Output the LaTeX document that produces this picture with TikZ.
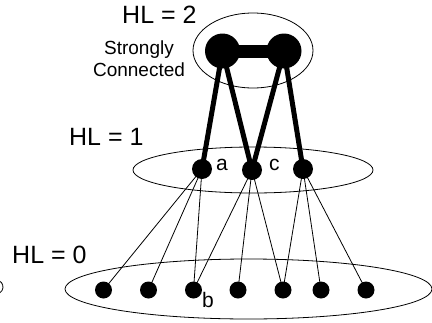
\documentclass[tikz,border=0pt]{standalone}
\usepackage{fontspec}
\setmainfont{Liberation Sans}
\usetikzlibrary{backgrounds}
\begin{document}
\begin{tikzpicture}[x=1pt,y=-1pt,
  ring/.style={draw=black,line width=0.8pt},
  bignode/.style={circle,fill=black,inner sep=0pt,minimum size=35pt},
  midnode/.style={circle,fill=black,inner sep=0pt,minimum size=20pt},
  lownode/.style={circle,fill=black,inner sep=0pt,minimum size=17pt},
  thick edge/.style={line width=5pt},
  thin edge/.style={line width=0.8pt},
  level label/.style={font=\fontsize{25}{30}\selectfont,anchor=base west,inner sep=0pt},
  small label/.style={font=\fontsize{19}{22}\selectfont,inner sep=0pt},
  node label/.style={font=\fontsize{21}{24}\selectfont,inner sep=0pt,anchor=base west}]
\useasboundingbox (0,0) rectangle (432,322);

% level rings
\draw[ring] (253,50.5) ellipse [x radius=60,y radius=37.5];
\draw[ring] (253,170) ellipse [x radius=120,y radius=23];
\draw[ring] (248.5,289) ellipse [x radius=183.5,y radius=30];
\draw[ring] (-4,287) ++(-60:7) arc [start angle=-60,end angle=60,radius=7];

% nodes
\node[bignode] (p) at (222.5,51) {};
\node[bignode] (q) at (284,51) {};
\node[midnode] (a) at (202,169) {};
\node[midnode] (c) at (252,170) {};
\node[midnode] (d) at (303,169) {};
\foreach \i/\x in {1/103.5,2/148.5,3/193.5,4/238,5/283,6/321,7/366}
  \node[lownode] (n\i) at (\x,290) {};

% edges, kept beneath the discs
\begin{pgfonlayer}{background}
\draw[line width=13pt] (p.center) -- (q.center);
\draw[thick edge] (p.center) -- (a.center);
\draw[thick edge] (p.center) -- (c.center);
\draw[thick edge] (q.center) -- (c.center);
\draw[thick edge] (q.center) -- (d.center);
\foreach \s/\t in {a/n1,a/n2,a/n3,c/n3,c/n4,c/n5,d/n5,d/n6,d/n7}
  \draw[thin edge] (\s.center) -- (\t.center);
\end{pgfonlayer}

% labels
\node[level label] (hl2) at (122,23) {HL = 2};
\node[level label] (hl1) at (69,145) {HL = 1};
\node[level label] (hl0) at (12,263) {HL = 0};
\node[small label,anchor=base] (s1) at (139,54) {Strongly};
\node[small label,anchor=base] (s2) at (139,76) {Connected};
\node[node label] (la) at (216,170) {a};
\node[node label] (lc) at (269,170) {c};
\node[node label] (lb) at (202,307) {b};
\end{tikzpicture}
\end{document}
